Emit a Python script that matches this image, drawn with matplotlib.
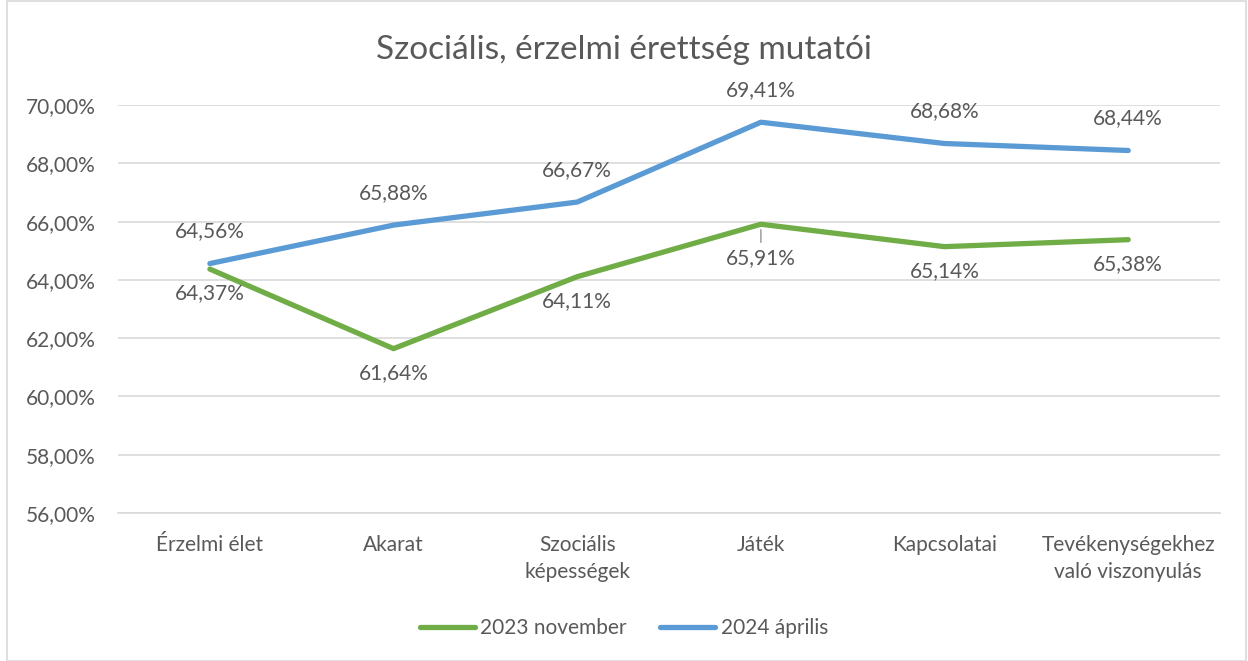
import matplotlib.pyplot as plt
from matplotlib.patches import Rectangle

categories = ["Érzelmi élet", "Akarat", "Szociális\nképességek", "Játék",
              "Kapcsolatai", "Tevékenységekhez\nvaló viszonyulás"]
nov_2023 = [64.37, 61.64, 64.11, 65.91, 65.14, 65.38]
apr_2024 = [64.56, 65.88, 66.67, 69.41, 68.68, 68.44]
yticks = [56, 58, 60, 62, 64, 66, 68, 70]

green = "#70AD47"
blue = "#5B9BD5"
gray = "#595959"

plt.rcParams['font.family'] = ['Lato', 'DejaVu Sans']

fig = plt.figure(figsize=(12.48, 6.61), dpi=100)
fig.patches.append(Rectangle((0.006, 0.0), 0.992, 0.998, transform=fig.transFigure,
                             fill=False, edgecolor="#D9D9D9", linewidth=1.2))
ax = fig.add_axes([0.0946, 0.2239, 0.883, 0.6172])

x = list(range(len(categories)))
ax.plot(x, nov_2023, color=green, linewidth=3.8, solid_capstyle='round', label="2023 november")
ax.plot(x, apr_2024, color=blue, linewidth=3.8, solid_capstyle='round', label="2024 április")

def fmt(v):
    return f"{v:.2f}%".replace(".", ",")

for i, v in enumerate(apr_2024):
    ax.annotate(fmt(v), (i, v), xytext=(0, 32), textcoords='offset pixels',
                ha='center', va='center', fontsize=15, color=gray)
for i, v in enumerate(nov_2023):
    off = -34 if i == 3 else -24
    ax.annotate(fmt(v), (i, v), xytext=(0, off), textcoords='offset pixels',
                ha='center', va='center', fontsize=15, color=gray)
# leader line for Játék label
ax.annotate("", (3, nov_2023[3]), xytext=(0, -18), textcoords='offset pixels',
            arrowprops=dict(arrowstyle='-', color="#A6A6A6", lw=1.2,
                            shrinkA=0, shrinkB=4))

ax.set_xlim(-0.5, len(categories) - 0.5)
ax.set_ylim(56, 70)
ax.set_yticks(yticks)
ax.set_yticklabels([f"{t:.2f}%".replace(".", ",") for t in yticks])
ax.set_xticks(x)
ax.set_xticklabels(categories, linespacing=1.45)
ax.tick_params(axis='both', length=0, labelsize=15, labelcolor=gray)
ax.tick_params(axis='y', pad=16)
ax.tick_params(axis='x', pad=16)
ax.grid(axis='y', color="#D9D9D9", linewidth=1.2)
ax.set_axisbelow(True)
for s in ax.spines.values():
    s.set_visible(False)
ax.spines['bottom'].set_visible(True)
ax.spines['bottom'].set_color("#D9D9D9")
ax.spines['bottom'].set_linewidth(1.2)

fig.text(0.5, 0.925, "Szociális, érzelmi érettség mutatói", ha='center', va='center',
         fontsize=24, color=gray)

leg = fig.legend(loc='center', bbox_to_anchor=(0.5, 0.05), ncol=2, frameon=False,
                 fontsize=15, handlelength=2.65, handletextpad=0.25, columnspacing=1.6)
for t in leg.get_texts():
    t.set_color(gray)

fig.savefig("out.png", dpi=100)
